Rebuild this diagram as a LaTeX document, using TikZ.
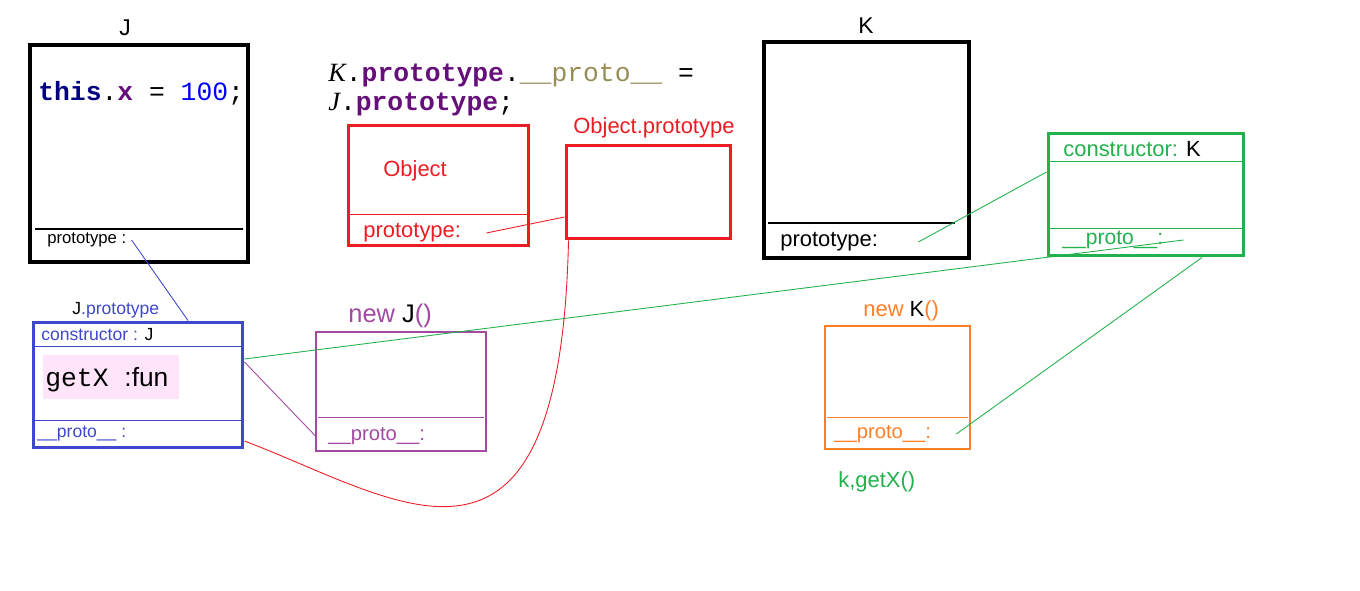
\documentclass[tikz,border=0pt]{standalone}
\usepackage{fontspec}
\setmainfont{Liberation Sans}
\setmonofont{Liberation Mono}
\newfontfamily\codeit{Liberation Serif}
\usetikzlibrary{positioning}
\definecolor{jblue}{HTML}{3F48CC}
\definecolor{jpurple}{HTML}{A349A4}
\definecolor{korange}{HTML}{FF7F27}
\definecolor{kgreen}{HTML}{22B14C}
\definecolor{objred}{HTML}{ED1C24}
\definecolor{codenavy}{HTML}{000080}
\definecolor{codepurple}{HTML}{660E7A}
\definecolor{codeblue}{HTML}{0000FF}
\definecolor{codeolive}{HTML}{968C55}
\definecolor{funpink}{HTML}{FFE4FA}
\begin{document}
\begin{tikzpicture}[x=0.02cm, y=-0.02cm, inner sep=0pt,
  box/.style={draw, rectangle},
  lbl/.style={anchor=west, font=\fontsize{11pt}{13pt}\selectfont},
  code/.style={anchor=west, font=\ttfamily\fontsize{15pt}{17pt}\selectfont}]
   \useasboundingbox (0,0) rectangle (1360,591);
   % boxes
   \begin{scope}[every node/.style={box}]
    \node[line width=2.3pt, minimum width=4.36cm, minimum height=4.34cm] (J) at (139,153.5) {};
    \node[objred, line width=1.7pt, minimum width=3.62cm, minimum height=2.42cm] (obj) at (438.5,185.5) {};
    \node[objred, line width=1.7pt, minimum width=3.3cm, minimum height=1.88cm] (objproto) at (648.5,192) {};
    \node[line width=2.3pt, minimum width=4.1cm, minimum height=4.32cm] (K) at (866.5,150) {};
    \node[kgreen, line width=1.7pt, minimum width=3.92cm, minimum height=2.46cm] (kproto) at (1146,194.5) {};
    \node[jblue, line width=1.7pt, minimum width=4.2cm, minimum height=2.52cm] (jproto) at (138,385) {};
    \node[jpurple, line width=0.6pt, minimum width=3.4cm, minimum height=2.38cm] (nj) at (401,391.5) {};
    \node[korange, line width=0.6pt, minimum width=2.9cm, minimum height=2.46cm] (nk) at (897.5,387.5) {};
   \end{scope}
   % dividers
   \draw[line width=0.8pt] (35,229) -- (243,229);
   \draw[objred, line width=0.5pt] (350,214) -- (527,214);
   \draw[line width=0.8pt] (768,223) -- (955,223);
   \draw[kgreen, line width=0.5pt] (1050,161) -- (1242,161) (1050,228) -- (1242,228);
   \draw[jblue, line width=0.5pt] (35,346) -- (241,346) (35,420) -- (241,420);
   \draw[jpurple, line width=0.5pt] (318,417) -- (484,417);
   \draw[korange, line width=0.5pt] (827,417) -- (968,417);
   % pink method
   \node[fill=funpink, minimum width=2.72cm, minimum height=0.88cm] (fun) at (111,377) {};
   % texts
   \node[lbl, font=\fontsize{13pt}{15pt}\selectfont] (jt) at (119,28) {J};
   \node[lbl, font=\fontsize{13pt}{15pt}\selectfont] (kt) at (858,26) {K};
   \node[code] (jcode) at (38,93) {\textbf{\color{codenavy}this}.\textbf{\color{codepurple}x} = {\color{codeblue}100};};
   \node[lbl, font=\fontsize{9.5pt}{11pt}\selectfont] (jptxt) at (47,240) {prototype :};
   \node[code] (code1) at (328,75) {{\codeit\itshape K}.\textbf{\color{codepurple}prototype}.{\color{codeolive}\_\_proto\_\_} =};
   \node[code] (code2) at (328,104) {{\codeit\itshape J}.\textbf{\color{codepurple}prototype};};
   \node[lbl, objred, font=\fontsize{12.5pt}{14pt}\selectfont] (objtxt) at (383,171) {Object};
   \node[lbl, objred, font=\fontsize{12.5pt}{14pt}\selectfont] (objptxt) at (363,233) {prototype:};
   \node[lbl, objred, font=\fontsize{12.5pt}{14pt}\selectfont] (objlabel) at (573,128) {Object.prototype};
   \node[lbl, font=\fontsize{12.5pt}{14pt}\selectfont] (kptxt) at (780,242) {prototype:};
   \node[lbl, kgreen, font=\fontsize{12.5pt}{14pt}\selectfont] (kctxt) at (1063,149) {constructor: \textcolor{black}{K}};
   \node[lbl, kgreen, font=\fontsize{12pt}{14pt}\selectfont] (kpp) at (1062,240) {\_\_proto\_\_:};
   \node[lbl, jblue, font=\fontsize{10pt}{12pt}\selectfont] (jplabel) at (72,310) {\textcolor{black}{J}.prototype};
   \node[lbl, jblue, font=\fontsize{10pt}{12pt}\selectfont] (jctxt) at (41,335) {constructor : \textcolor{black}{J}};
   \node[anchor=west] (funtxt) at (45,380) {\ttfamily\fontsize{15pt}{17pt}\selectfont getX \rmfamily\fontsize{15pt}{17pt}\selectfont:fun};
   \node[lbl, jblue, font=\fontsize{10pt}{12pt}\selectfont] (jpp) at (37,434) {\_\_proto\_\_ :};
   \node[lbl, jpurple, font=\fontsize{14.5pt}{16pt}\selectfont] (njlabel) at (348,316) {new \textcolor{black}{J}()};
   \node[lbl, jpurple, font=\fontsize{11.5pt}{13pt}\selectfont] (njp) at (328,436) {\_\_proto\_\_:};
   \node[lbl, korange, font=\fontsize{12.5pt}{14pt}\selectfont] (nklabel) at (863,311) {new \textcolor{black}{K}()};
   \node[lbl, korange, font=\fontsize{11.5pt}{13pt}\selectfont] (nkp) at (834,434) {\_\_proto\_\_:};
   \node[lbl, kgreen, font=\fontsize{12.5pt}{14pt}\selectfont] (call) at (838,482) {k,getX()};
   % links
   \begin{scope}[line width=0.5pt]
    \draw[jblue] ([xshift=0.1cm]jptxt.east) -- ([xshift=1cm]jproto.north);
    \draw[jpurple] ([yshift=0.46cm]jproto.east) -- (njp.west -| nj.west);
    \draw[kgreen] ([yshift=0.52cm]jproto.east) -- ([xshift=0.4cm]kpp.east);
    \draw[kgreen] ([xshift=0.8cm]kptxt.east) -- ([yshift=0.45cm]kproto.west);
    \draw[kgreen] ([xshift=0.5cm]nkp.east) -- ([xshift=1.12cm]kproto.south);
    \draw[objred] ([xshift=0.5cm]objptxt.east) -- ([yshift=-0.5cm]objproto.west);
    \draw[objred] ([yshift=-1.12cm]jproto.east) .. controls (400,500) and (560,620) .. ([xshift=0.08cm]objproto.south west);
   \end{scope}
\end{tikzpicture}
\end{document}
